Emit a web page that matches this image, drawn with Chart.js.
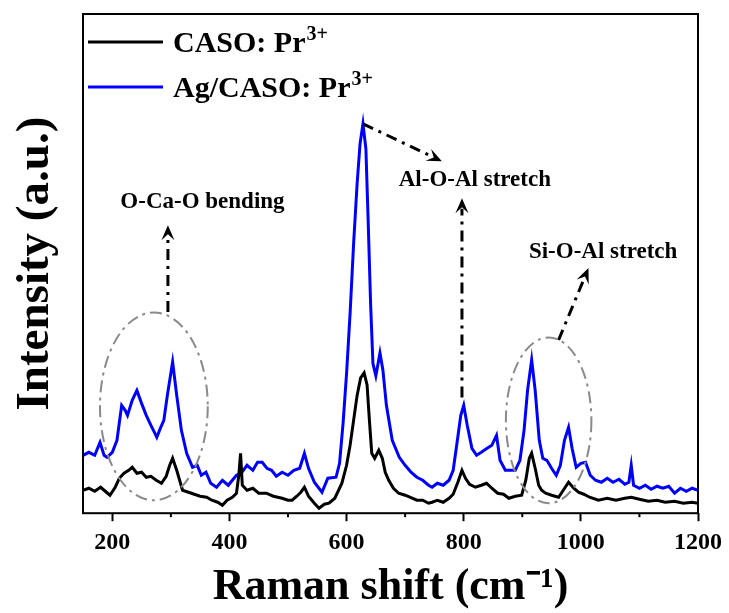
<!DOCTYPE html>
<html><head><meta charset="utf-8">
<script src="https://cdn.jsdelivr.net/npm/chart.js@4.4.0/dist/chart.umd.min.js"></script>
<style>html,body{margin:0;padding:0;background:#fff}#wrap{width:729px;height:613px}</style>
</head><body><div id="wrap"><canvas id="c" width="729" height="613"></canvas></div>
<script>
// ---- data ----
const ramanShiftCASO = [150,160,170,180,190,196,205,212,220,228,234,242,250,258,266,275,284,292,298,303,310,320,330,340,350,361,370,380,388,396,405,412,416,419,422,430,440,450,463,475,490,500,507,515,522,528,535,545,553,562,570,580,592,600,606,612,618,624,630,635,639,643,648,655,661,666,672,680,689,700,712,720,730,740,746,755,765,775,782,790,797,803,810,820,830,839,848,858,868,877,888,899,906,912,916,922,928,933,940,950,962,970,979,988,996,1005,1015,1030,1045,1060,1075,1086,1100,1115,1130,1144,1160,1175,1190,1200];
const intensityCASO = [4.6,5.0,4.4,5.2,4.2,3.6,5.2,7.0,8.0,8.6,9.2,8.0,8.2,7.2,7.4,6.6,6.0,7.4,9.6,11.0,8.6,4.6,4.2,3.8,3.4,3.2,2.6,2.2,1.6,2.6,3.2,4.0,7.6,12.0,5.6,4.6,5.0,4.0,4.0,3.4,3.0,2.6,2.6,3.4,4.2,5.2,3.4,2.0,1.0,1.8,2.0,3.0,6.0,9.6,13.6,18.6,23.6,27.1,28.1,25.7,18.6,12.0,11.0,12.6,11.0,8.2,6.6,5.0,4.0,3.6,3.0,2.6,2.6,2.0,2.2,2.6,2.2,3.0,3.8,6.2,8.6,7.0,5.8,5.2,5.6,6.0,5.0,4.0,3.8,3.0,3.4,3.6,6.6,11.0,12.0,9.0,5.6,4.6,4.0,3.6,3.2,4.6,6.2,5.0,4.2,3.8,3.2,2.6,3.0,2.6,3.0,3.2,2.8,2.4,2.6,2.2,2.4,2.0,2.2,2.0];
const ramanShiftAg = [150,160,170,179,186,191,200,208,216,222,226,234,242,250,258,266,272,276,282,288,294,303,310,318,327,337,345,352,360,368,378,388,398,405,412,420,430,440,448,456,464,472,480,490,500,510,520,528,535,545,558,568,582,588,594,600,606,612,618,623,628,633,637,641,645,650,657,662,668,678,690,700,710,720,730,740,746,755,765,775,782,788,795,800,806,814,822,830,840,848,856,862,871,880,888,896,903,909,916,922,929,935,942,950,958,965,972,979,985,992,1000,1008,1016,1025,1035,1045,1055,1065,1075,1082,1086,1090,1100,1110,1120,1130,1140,1150,1160,1170,1180,1190,1200];
const intensityAg = [11.6,12.2,11.6,14.2,11.6,11.2,12.2,14.6,21.6,20.6,19.6,22.6,24.6,22.0,19.6,17.6,16.2,15.2,17.0,18.6,23.6,30.3,23.6,16.6,12.0,9.2,9.6,7.6,8.2,6.0,5.2,6.6,5.6,6.6,7.6,8.0,9.6,8.6,10.2,10.2,9.0,8.6,7.4,8.2,7.6,8.6,9.0,12.0,9.0,6.2,4.2,7.0,7.2,10.0,18.0,28.0,40.0,54.0,66.0,74.0,78.0,73.0,58.0,42.0,30.0,27.5,32.1,28.7,21.6,14.6,11.2,9.6,8.2,7.2,6.6,5.6,5.2,6.0,5.6,6.6,8.6,13.6,19.6,21.6,17.6,13.0,11.6,12.2,13.0,13.6,15.6,10.6,8.6,8.6,8.6,10.6,16.6,24.6,30.7,24.6,14.6,11.0,10.6,9.0,7.6,9.6,14.6,17.2,13.0,9.2,10.0,10.2,7.6,6.6,6.2,7.0,6.2,6.8,5.8,6.2,9.6,5.6,5.0,5.6,4.8,5.4,5.0,5.4,4.0,5.0,4.4,5.0,4.6];
const seriesNames = ['CASO: Pr', 'Ag/CASO: Pr'];
const seriesSup = ['3+', '3+'];
const xTickValues = [200,300,400,500,600,700,800,900,1000,1100,1200];
const xTickLabels = ['200','','400','','600','','800','','1000','','1200'];

// ---- annotations (in data units) ----
const annoEllipses = [{cx:271, cy:21.4, rx:92, ry:18.8},{cx:945, cy:18.6, rx:73, ry:16.6}];
const annoArrows = [
  {x1:295, y1:40.3, x2:295, y2:57.7},
  {x1:628.2, y1:78.0, x2:762.7, y2:70.5},
  {x1:797, y1:23.2, x2:797, y2:63.1},
  {x1:962, y1:34.7, x2:1013, y2:49.1}
];
const annoTexts = [
  {x:354, y:62.3, t:'O-Ca-O bending'},
  {x:819, y:66.7, t:'Al-O-Al stretch'},
  {x:1038, y:52.3, t:'Si-O-Al stretch'}
];

const SERIF = '"Liberation Serif", "Times New Roman", serif';
const colors = ['#000000', '#0000ff'];

function pts(xs, ys){ return xs.map((v,i)=>({x:v, y:ys[i]})); }

const decor = {
  id: 'decor',
  afterDatasetsDraw(chart){
    const {ctx, chartArea:a, scales:{x, y}} = chart;
    ctx.save();
    // frame
    ctx.setLineDash([]);
    ctx.strokeStyle = '#000'; ctx.lineWidth = 2;
    ctx.strokeRect(a.left, a.top, a.right - a.left, a.bottom - a.top);
    // minor ticks
    ctx.lineWidth = 2;
    xTickValues.forEach((v,i)=>{
      if (xTickLabels[i] === '') {
        const px = x.getPixelForValue(v);
        ctx.beginPath(); ctx.moveTo(px, a.bottom); ctx.lineTo(px, a.bottom + 4); ctx.stroke();
      }
    });
    // ellipses
    ctx.strokeStyle = '#8a8a8a'; ctx.lineWidth = 2; ctx.setLineDash([12,5,3,5]);
    annoEllipses.forEach(e=>{
      const cx = x.getPixelForValue(e.cx), cy = y.getPixelForValue(e.cy);
      const rx = Math.abs(x.getPixelForValue(e.cx + e.rx) - cx);
      const ry = Math.abs(y.getPixelForValue(e.cy + e.ry) - cy);
      ctx.beginPath(); ctx.ellipse(cx, cy, rx, ry, 0, 0, Math.PI*2); ctx.stroke();
    });
    // arrows
    annoArrows.forEach(r=>{
      const x1 = x.getPixelForValue(r.x1), y1 = y.getPixelForValue(r.y1);
      const x2 = x.getPixelForValue(r.x2), y2 = y.getPixelForValue(r.y2);
      const ang = Math.atan2(y2 - y1, x2 - x1);
      const L = 15, W = 6.5;
      const bx = x2 - Math.cos(ang)*L*0.7, by = y2 - Math.sin(ang)*L*0.7;
      ctx.strokeStyle = '#000'; ctx.lineWidth = 3; ctx.setLineDash([11,6,3,6]);
      ctx.beginPath(); ctx.moveTo(x1, y1); ctx.lineTo(bx, by); ctx.stroke();
      ctx.setLineDash([]);
      ctx.fillStyle = '#000';
      const lx = x2 - Math.cos(ang)*L, ly = y2 - Math.sin(ang)*L;
      const nx = -Math.sin(ang), ny = Math.cos(ang);
      ctx.beginPath();
      ctx.moveTo(x2, y2);
      ctx.lineTo(lx + nx*W, ly + ny*W);
      ctx.lineTo(x2 - Math.cos(ang)*L*0.6, y2 - Math.sin(ang)*L*0.6);
      ctx.lineTo(lx - nx*W, ly - ny*W);
      ctx.closePath(); ctx.fill();
    });
    // annotation texts
    ctx.fillStyle = '#000';
    ctx.font = 'bold 23px ' + SERIF;
    ctx.textAlign = 'center'; ctx.textBaseline = 'middle';
    annoTexts.forEach(t=>{
      ctx.fillText(t.t, x.getPixelForValue(t.x), y.getPixelForValue(t.y));
    });
    // legend
    const rows = [42, 87];
    chart.data.datasets.forEach((ds, i)=>{
      const yy = a.top + rows[i] - 14;
      ctx.strokeStyle = ds.borderColor; ctx.lineWidth = 3;
      ctx.beginPath(); ctx.moveTo(a.left + 5, yy); ctx.lineTo(a.left + 80, yy); ctx.stroke();
      ctx.fillStyle = '#000';
      ctx.textAlign = 'left'; ctx.textBaseline = 'alphabetic';
      ctx.font = 'bold 30px ' + SERIF;
      const base = seriesNames[i];
      const tx = a.left + 90, ty = yy + 10;
      ctx.fillText(base, tx, ty);
      const w = ctx.measureText(base).width;
      ctx.font = 'bold 20px ' + SERIF;
      ctx.fillText(seriesSup[i], tx + w + 1, ty - 12);
    });
    ctx.restore();
  }
};

new Chart(document.getElementById('c'), {
  type: 'line',
  data: {
    datasets: [
      {label: seriesNames[0] + '³⁺', data: pts(ramanShiftCASO, intensityCASO), borderColor: colors[0], borderWidth: 3, pointRadius: 0, tension: 0, fill: false},
      {label: seriesNames[1] + '³⁺', data: pts(ramanShiftAg, intensityAg), borderColor: colors[1], borderWidth: 3, pointRadius: 0, tension: 0, fill: false}
    ]
  },
  options: {
    responsive: false,
    animation: false,
    devicePixelRatio: 1,
    layout: {padding: {top: 14, right: 28, left: 0, bottom: 0}},
    plugins: {legend: {display: false}, tooltip: {enabled: false}},
    scales: {
      x: {
        type: 'linear', min: 150, max: 1200,
        afterBuildTicks: (s)=>{ s.ticks = xTickValues.map(v=>({value: v})); },
        ticks: {
          autoSkip: false, maxRotation: 0, padding: 7, color: '#000',
          font: {family: SERIF, size: 24, weight: 'bold'},
          callback: (v)=>{ const i = xTickValues.indexOf(v); return i >= 0 ? xTickLabels[i] : ''; }
        },
        grid: {display: true, drawOnChartArea: false, drawTicks: true, tickLength: 8, tickWidth: 2,
               tickColor: (c)=> (c.tick && c.tick.value % 200 === 0) ? '#000' : 'rgba(0,0,0,0)'},
        border: {display: false},
        title: {display: true, text: 'Raman shift (cm⁻¹)', color: '#000',
                font: {family: SERIF, size: 44, weight: 'bold', lineHeight: 1},
                padding: {top: 2, bottom: 3}}
      },
      y: {
        min: 0, max: 100,
        ticks: {display: false},
        grid: {display: false, drawTicks: false},
        border: {display: false},
        title: {display: true, text: 'Intensity (a.u.)', color: '#000',
                font: {family: SERIF, size: 47, weight: 'bold', lineHeight: 1},
                padding: {top: 12, bottom: 24}}
      }
    }
  },
  plugins: [decor]
});
</script>
</body></html>
